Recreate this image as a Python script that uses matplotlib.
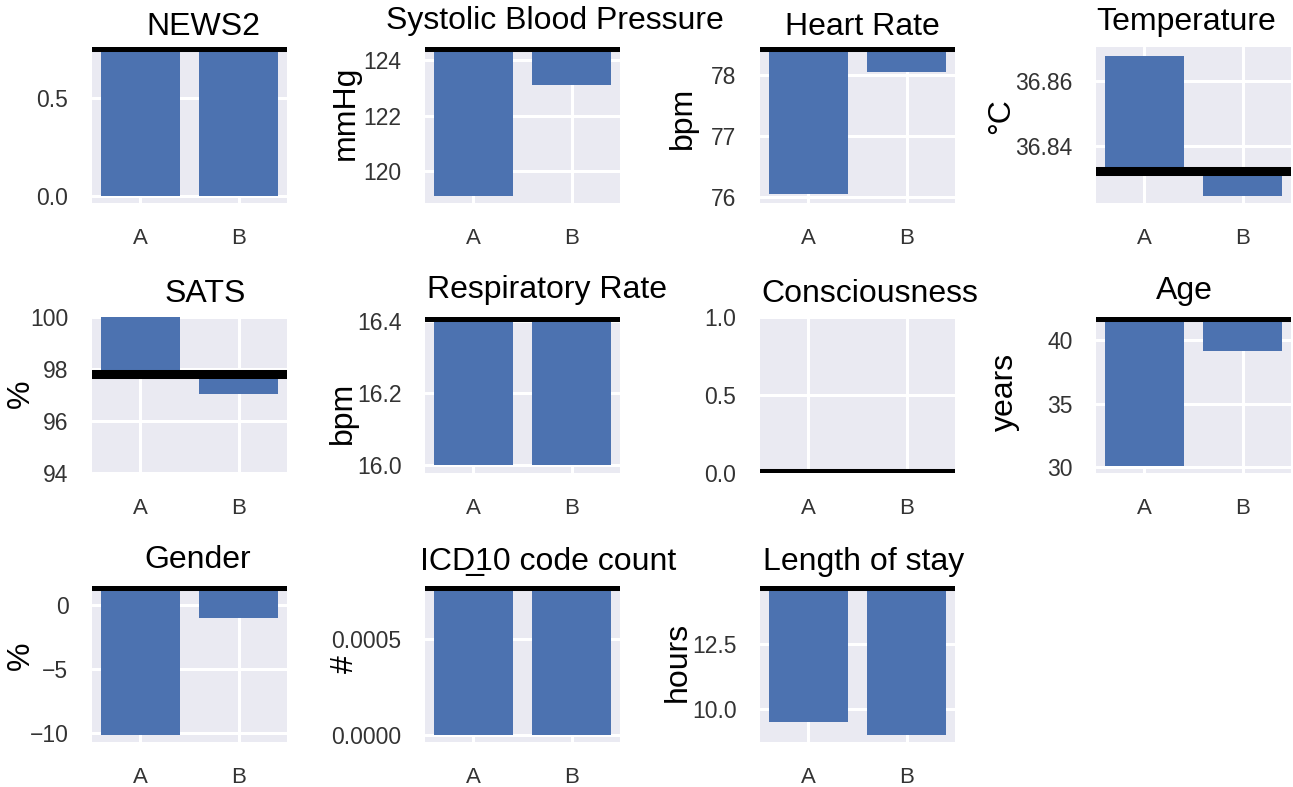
import matplotlib
matplotlib.use("Agg")
import matplotlib.pyplot as plt
import seaborn as sns
from matplotlib.ticker import FuncFormatter

sns.set_theme(style="darkgrid")
plt.rcParams['font.family'] = ['Liberation Sans', 'DejaVu Sans']

# ---------------- data ----------------
categories = ["A", "B"]
titles = ["NEWS2", "Systolic Blood Pressure", "Heart Rate", "Temperature",
          "SATS", "Respiratory Rate", "Consciousness", "Age",
          "Gender", "ICD\u033210 code count", "Length of stay"]
units = ["", "mmHg", "bpm", "\u00b0C",
         "%", "bpm", "", "years",
         "%", "#", "hours"]
reference = [0.76, 124.48, 78.46, 36.832,
             97.8, 16.41, 0.0, 41.8,
             1.52, 0.00078, 14.72]
values_a = [0.0, 119.1, 76.04, 36.868,
            100.0, 16.0, 0.0, 30.13,
            -10.16, 0.0, 9.51]
values_b = [0.0, 123.1, 78.05, 36.8243,
            97.05, 16.0, 0.0, 39.16,
            -1.0, 0.0, 9.01]
ylims = [(-0.038, 0.76), (118.85, 124.48), (75.9, 78.46), (36.8222, 36.8707),
         (94, 100), (15.979, 16.41), (0, 1), (29.55, 41.8),
         (-10.7, 1.52), (-0.000039, 0.00078), (8.73, 14.72)]
yticks = [[0.0, 0.5], [120, 122, 124], [76, 77, 78], [36.84, 36.86],
          [94, 96, 98, 100], [16.0, 16.2, 16.4], [0.0, 0.5, 1.0], [30, 35, 40],
          [-10, -5, 0], [0.0, 0.0005], [10.0, 12.5]]
tick_fmt = ["{:.1f}", "{:.0f}", "{:.0f}", "{:.2f}",
            "{:.0f}", "{:.1f}", "{:.1f}", "{:.0f}",
            "{:.0f}", "{:.4f}", "{:.1f}"]

# ---------------- layout (pixels) ----------------
W, H = 1293, 787
col_left = [92, 425, 760, 1096]
row_top = [47, 317, 586]
ax_w, ax_h = 195, 156
title_x = [0.572, 0.667, 0.523, 0.464, 0.582, 0.626, 0.561, 0.451, 0.544, 0.631, 0.53]
title_gap_px = [12, 18, 12, 17, 15, 19, 15, 18, 18, 16, 16]
ylabel_pos = [None, (346, 113), (683, 118), (1001, 116),
              (21, 394), (343, 413), None, (1005, 392),
              (21, 656), (345, 664), (678, 662)]

fig = plt.figure(figsize=(W / 100, H / 100), dpi=100)
fig.patch.set_facecolor("white")

bar_color = "#4C72B0"
x = list(range(len(categories)))

for i in range(len(titles)):
    r, c = divmod(i, 4)
    left = col_left[c] / W
    bottom = 1 - (row_top[r] + ax_h) / H
    ax = fig.add_axes([left, bottom, ax_w / W, ax_h / H])
    ax.set_facecolor("#EAEAF2")
    ref = reference[i]
    heights = [values_a[i] - ref, values_b[i] - ref]
    ax.bar(x, heights, bottom=ref, width=0.8, color=bar_color, linewidth=0, zorder=2)
    ax.axhline(ref, color="black", lw=6.5, zorder=3)
    ax.set_xlim(-0.49, 1.49)
    ax.set_ylim(*ylims[i])
    ax.set_yticks(yticks[i])
    fmt = tick_fmt[i]
    ax.yaxis.set_major_formatter(FuncFormatter(lambda v, p, f=fmt: f.format(v).replace("-", "\u2212")))
    ax.set_xticks(x)
    ax.set_xticklabels(categories)
    ax.grid(True, color="white", lw=2.2)
    ax.set_axisbelow(True)
    for s in ax.spines.values():
        s.set_visible(False)
    ax.tick_params(axis="y", length=0, pad=17, labelsize=16.5, labelcolor="#333333")
    ax.tick_params(axis="x", length=0, pad=18, labelsize=16, labelcolor="#333333")
    ax.set_title(titles[i], fontsize=23, color="black", x=title_x[i],
                 pad=title_gap_px[i] * 0.72)
    if units[i]:
        ax.set_ylabel(units[i], fontsize=23, color="black")
        px, py = ylabel_pos[i]
        ax.yaxis.set_label_coords(px / W, 1 - py / H, transform=fig.transFigure)
        ax.yaxis.label.set_horizontalalignment("center")
        ax.yaxis.label.set_verticalalignment("center")

fig.savefig("out.png", dpi=100, facecolor="white")
